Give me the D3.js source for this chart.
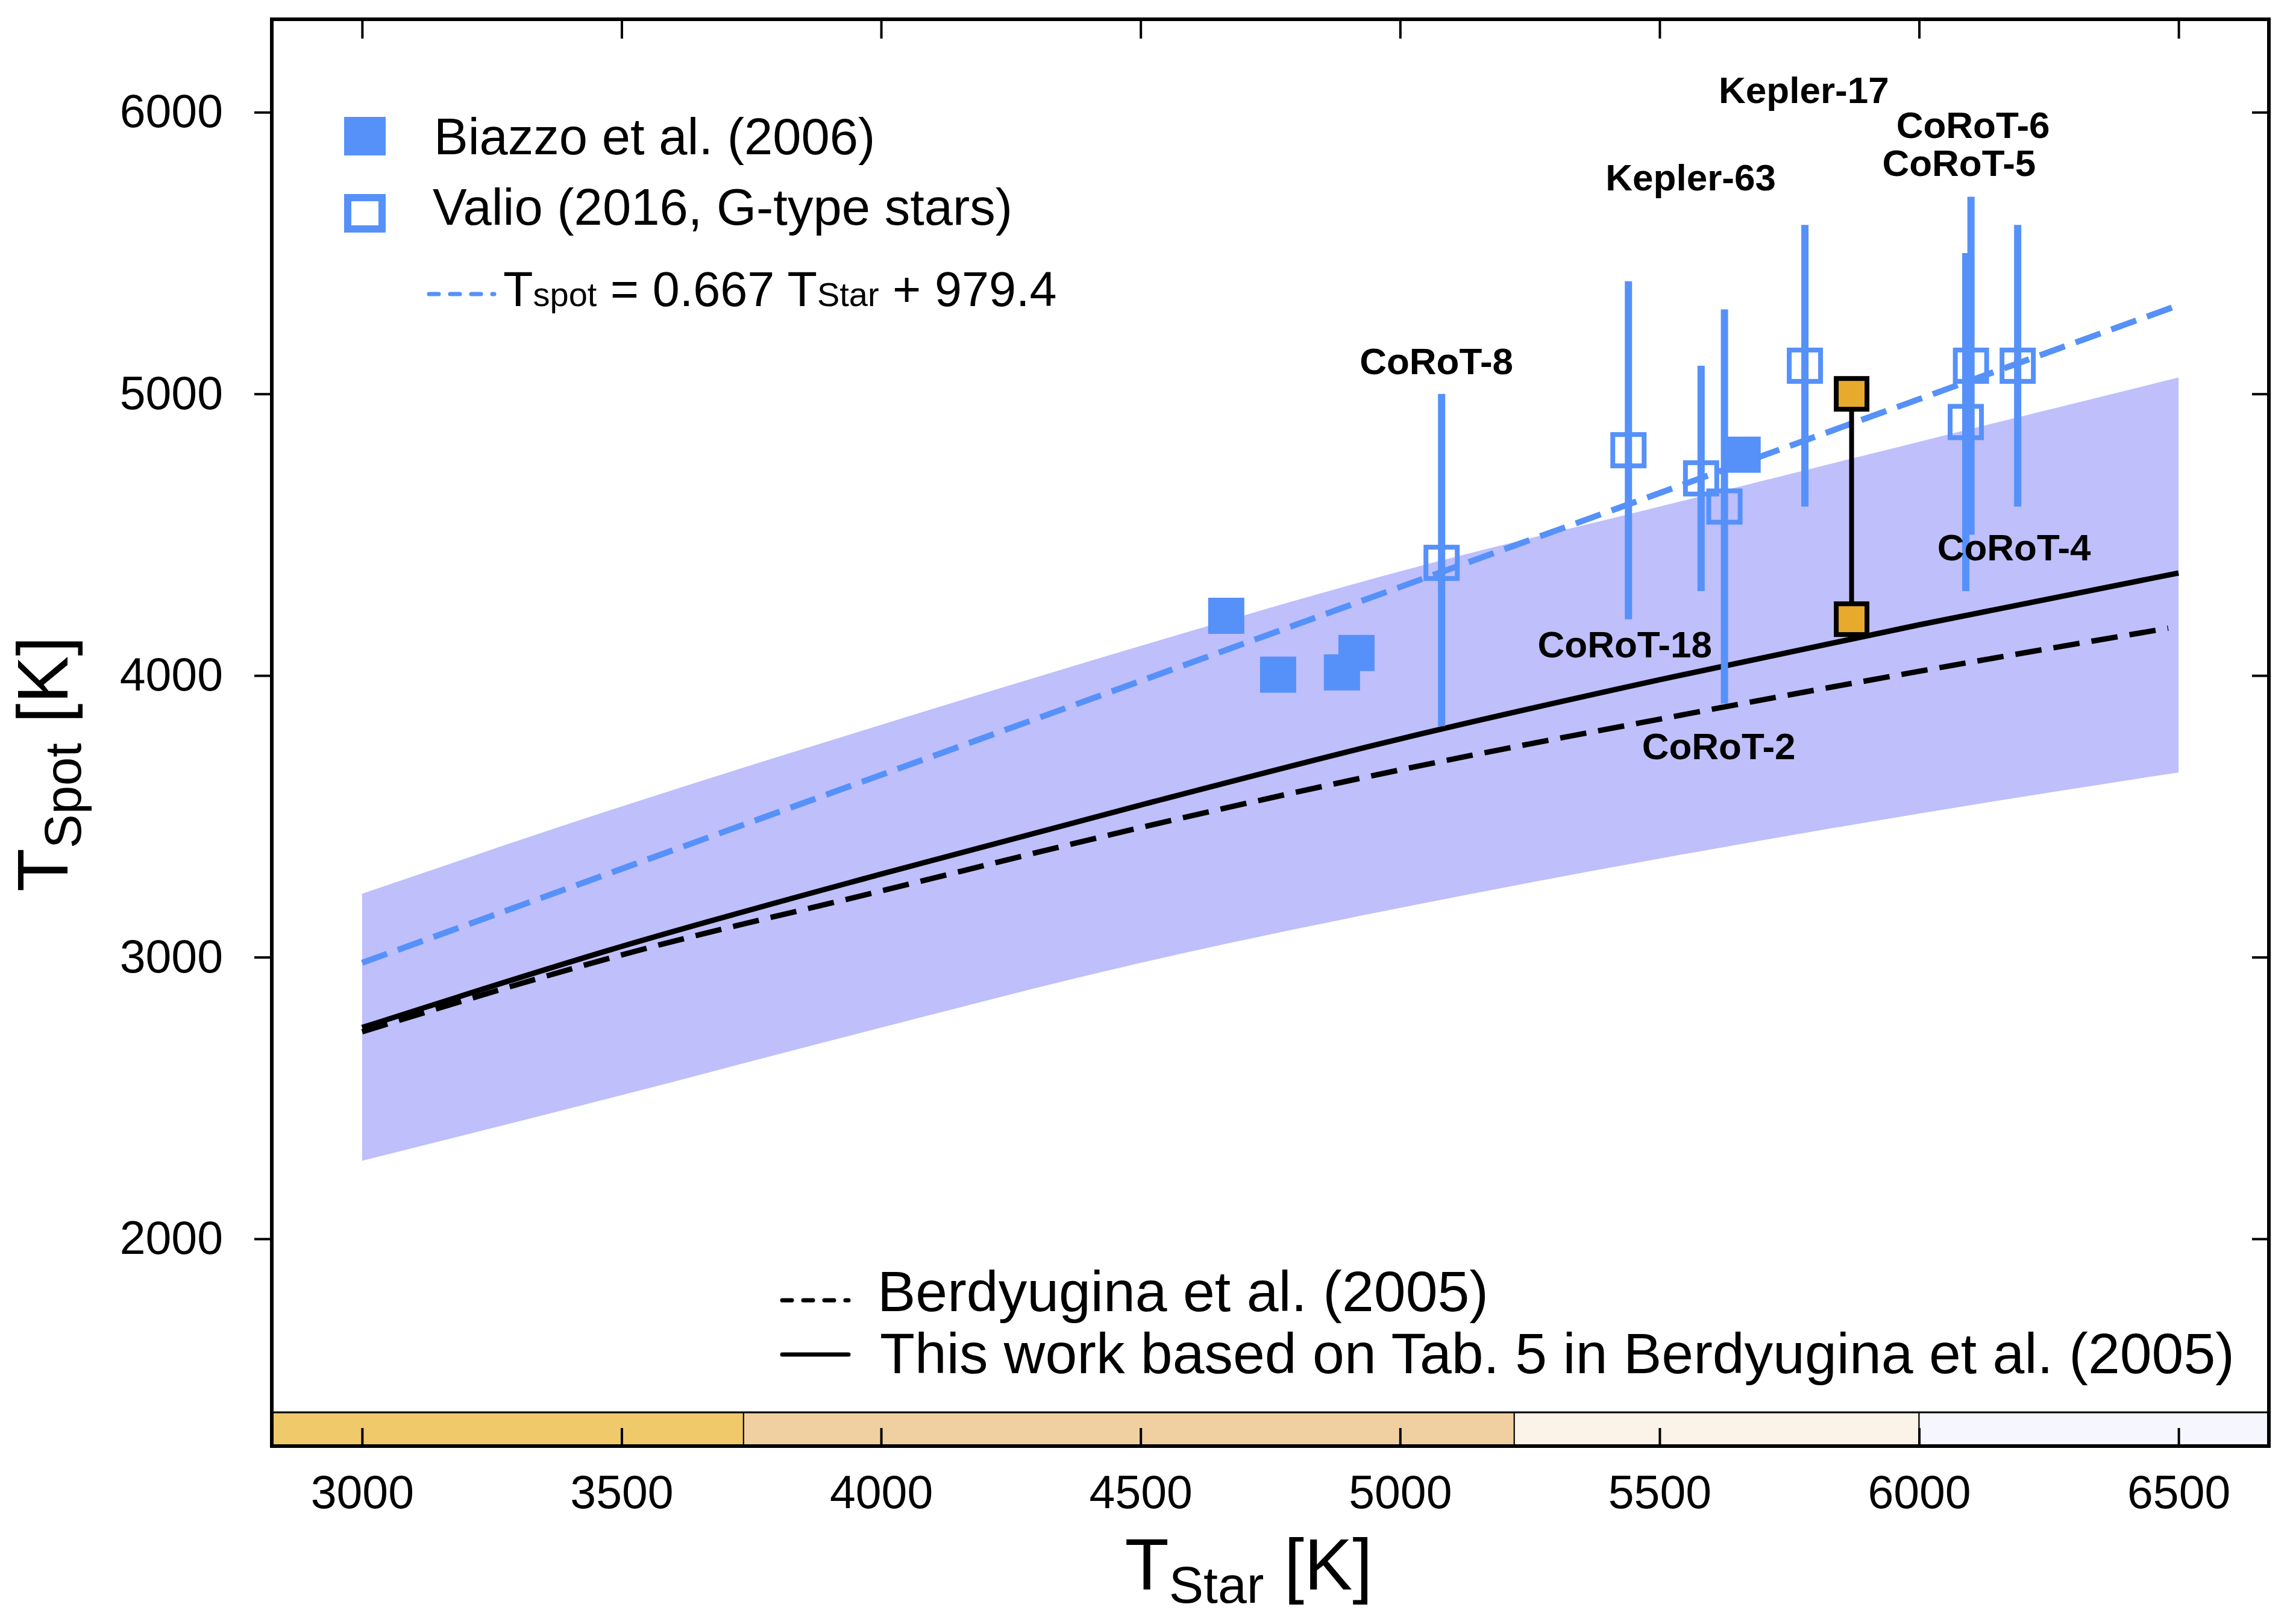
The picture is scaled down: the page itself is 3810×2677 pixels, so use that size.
<!DOCTYPE html>
<html>
<head>
<meta charset="utf-8">
<script src="https://cdn.jsdelivr.net/npm/d3@7"></script>
<style>
  body { margin: 0; background: #fff; }
  svg { display: block; }
  text { font-family: "Liberation Sans", Arial, Helvetica, sans-serif; fill: #000; }
</style>
</head>
<body>
<svg id="chart" width="3810" height="2677"></svg>
<script>
// ---- data ----
const xTicks = [3000, 3500, 4000, 4500, 5000, 5500, 6000, 6500];
const yTicks = [2000, 3000, 4000, 5000, 6000];

// shaded band + "this work" relation, sampled on a T_star grid
const tGrid = [3000, 3500, 4000, 4500, 5000, 5500, 6000, 6500];
const bandUpper = [3225, 3535, 3825, 4105, 4370, 4600, 4830, 5058];
const bandLower = [2277, 2510, 2750, 2980, 3175, 3350, 3510, 3656];
const thisWorkSpot = [2750, 3038, 3295, 3540, 3775, 3985, 4180, 4364];

// Berdyugina et al. (2005) dashed relation
const berdStar = [3000, 3500, 4000, 4500, 5000, 5500, 6000, 6480];
const berdSpot = [2735, 3008, 3235, 3460, 3665, 3845, 4015, 4168];

// linear fit T_spot = 0.667 T_star + 979.4 (end points)
const fitStar = [3000, 6500];
const fitSpot = [2980, 5315];

// Biazzo et al. (2006)
const biazzoStar = [4665, 4765, 4888, 4916, 5660];
const biazzoSpot = [4212, 4003, 4011, 4080, 4784];

// Valio (2016), G-type stars, with error bars
const valioNames = ['CoRoT-8', 'Kepler-63', 'CoRoT-18', 'CoRoT-2', 'Kepler-17', 'CoRoT-6', 'CoRoT-5', 'CoRoT-4'];
const valioStar = [5080, 5440, 5580, 5625, 5780, 6100, 6090, 6190];
const valioSpot = [4400, 4800, 4700, 4600, 5100, 5100, 4900, 5100];
const valioHi = [5000, 5400, 5100, 5300, 5600, 5700, 5500, 5600];
const valioLo = [3820, 4200, 4300, 3900, 4600, 4500, 4300, 4600];

// this work (two values joined by a line)
const ownStar = [5870, 5870];
const ownSpot = [5000, 4200];

// star name labels (anchor point of each label)
const labelNames = ['CoRoT-8', 'Kepler-63', 'Kepler-17', 'CoRoT-6', 'CoRoT-5', 'CoRoT-4', 'CoRoT-18', 'CoRoT-2'];
const labelStar = [5070, 5560, 5778, 6104, 6077, 6183, 5433, 5614];
const labelSpot = [5070, 5722, 6032, 5908, 5773, 4409, 4064, 3703];

// spectral type strip along the bottom
const specBounds = [2826, 3735, 5220, 6000, 6674];
const specColors = ['#f0c96a', '#f0d0a0', '#fbf2e8', '#f5f6fe'];
const specTop = 1384;

// ---- drawing ----
const svg = d3.select('#chart');
const width = 3810, height = 2677;
const margin = { top: 32, right: 45, bottom: 277, left: 451 };
const innerW = width - margin.left - margin.right;
const innerH = height - margin.top - margin.bottom;

const blue = '#5691f9';
const orange = '#e8aa2c';

const x = d3.scaleLinear().domain([2826, 6674]).range([0, innerW]);
const y = d3.scaleLinear().domain([1264, 6330]).range([innerH, 0]);

svg.append('rect').attr('width', width).attr('height', height).attr('fill', '#fff');

const g = svg.append('g')
    .attr('transform', `translate(${margin.left},${margin.top})`);

// spectral strip
g.selectAll('rect.spec')
    .data(specColors)
    .join('rect')
    .attr('class', 'spec')
    .attr('x', (d, i) => x(specBounds[i]))
    .attr('width', (d, i) => x(specBounds[i + 1]) - x(specBounds[i]))
    .attr('y', y(specTop))
    .attr('height', y(1264) - y(specTop))
    .attr('fill', d => d)
    .attr('stroke', '#000')
    .attr('stroke-width', 2);
g.append('line')
    .attr('x1', 0).attr('x2', innerW)
    .attr('y1', y(specTop)).attr('y2', y(specTop))
    .style('stroke', '#000').style('stroke-width', 3);

// band
const idx = d3.range(tGrid.length);
const band = d3.area()
    .x(i => x(tGrid[i]))
    .y0(i => y(bandLower[i]))
    .y1(i => y(bandUpper[i]))
    .curve(d3.curveMonotoneX);
g.append('path').datum(idx)
    .attr('d', band)
    .style('fill', '#bfbffc');

// black relations
const thisLine = d3.line()
    .x(i => x(tGrid[i]))
    .y(i => y(thisWorkSpot[i]))
    .curve(d3.curveMonotoneX);
g.append('path').datum(idx)
    .attr('d', thisLine)
    .style('fill', 'none').style('stroke', '#000').style('stroke-width', 9);

const berdLine = d3.line()
    .x(i => x(berdStar[i]))
    .y(i => y(berdSpot[i]))
    .curve(d3.curveMonotoneX);
g.append('path').datum(d3.range(berdStar.length))
    .attr('d', berdLine)
    .style('fill', 'none').style('stroke', '#000').style('stroke-width', 9)
    .style('stroke-dasharray', '44,20');

// linear fit
g.append('path').datum(d3.range(fitStar.length))
    .attr('d', d3.line().x(i => x(fitStar[i])).y(i => y(fitSpot[i])))
    .style('fill', 'none').style('stroke', blue).style('stroke-width', 10)
    .style('stroke-dasharray', '44,19');

// Valio error bars + open squares
g.selectAll('line.err')
    .data(valioStar)
    .join('line')
    .attr('class', 'err')
    .attr('x1', d => x(d)).attr('x2', d => x(d))
    .attr('y1', (d, i) => y(valioHi[i]))
    .attr('y2', (d, i) => y(valioLo[i]))
    .style('stroke', blue).style('stroke-width', 12);

const openSize = 52;
g.selectAll('rect.valio')
    .data(valioStar)
    .join('rect')
    .attr('class', 'valio')
    .attr('x', d => x(d) - openSize / 2)
    .attr('y', (d, i) => y(valioSpot[i]) - openSize / 2)
    .attr('width', openSize).attr('height', openSize)
    .style('fill', 'none').style('stroke', blue).style('stroke-width', 8);

// Biazzo filled squares
const fillSize = 60;
g.selectAll('rect.biazzo')
    .data(biazzoStar)
    .join('rect')
    .attr('class', 'biazzo')
    .attr('x', d => x(d) - fillSize / 2)
    .attr('y', (d, i) => y(biazzoSpot[i]) - fillSize / 2)
    .attr('width', fillSize).attr('height', fillSize)
    .style('fill', blue);

// this work: two squares joined by a line
g.append('line')
    .attr('x1', x(ownStar[0])).attr('x2', x(ownStar[1]))
    .attr('y1', y(ownSpot[0])).attr('y2', y(ownSpot[1]))
    .style('stroke', '#000').style('stroke-width', 8);
const ownSize = 51;
g.selectAll('rect.own')
    .data(ownStar)
    .join('rect')
    .attr('class', 'own')
    .attr('x', d => x(d) - ownSize / 2)
    .attr('y', (d, i) => y(ownSpot[i]) - ownSize / 2)
    .attr('width', ownSize).attr('height', ownSize)
    .style('fill', orange).style('stroke', '#000').style('stroke-width', 8);

// star labels
g.selectAll('text.star')
    .data(labelNames)
    .join('text')
    .attr('class', 'star')
    .attr('x', (d, i) => x(labelStar[i]))
    .attr('y', (d, i) => y(labelSpot[i]))
    .attr('text-anchor', 'middle')
    .style('font-size', '62px')
    .style('font-weight', 'bold')
    .text(d => d);

// axes
const fmt = d3.format('d');
const axLeft = g.append('g')
    .call(d3.axisLeft(y).tickValues(yTicks).tickFormat(fmt).tickSize(29).tickPadding(52).tickSizeOuter(0));
const axRight = g.append('g')
    .attr('transform', `translate(${innerW},0)`)
    .call(d3.axisLeft(y).tickValues(yTicks).tickSize(28).tickFormat('').tickSizeOuter(0));
const axBottom = g.append('g')
    .attr('transform', `translate(0,${innerH})`)
    .call(d3.axisBottom(x).tickValues(xTicks).tickFormat(fmt).tickSize(-30).tickPadding(48).tickSizeOuter(0));
const axTop = g.append('g')
    .call(d3.axisBottom(x).tickValues(xTicks).tickSize(32).tickFormat('').tickSizeOuter(0));

[axLeft, axRight, axBottom, axTop].forEach(a => {
    a.select('.domain').remove();
    a.selectAll('.tick line').style('stroke', '#000').style('stroke-width', 4);
    a.selectAll('.tick text')
        .style('font-size', '77px')
        .style('font-family', '"Liberation Sans", Arial, sans-serif')
        .style('fill', '#000');
});

// frame
g.append('rect')
    .attr('width', innerW).attr('height', innerH)
    .style('fill', 'none').style('stroke', '#000').style('stroke-width', 6);

// axis titles
const yTitle = svg.append('text')
    .attr('transform', 'translate(112,1268) rotate(-90)')
    .attr('text-anchor', 'middle')
    .style('font-size', '118px');
yTitle.append('tspan').text('T');
yTitle.append('tspan').attr('dy', 22).style('font-size', '85px').text('Spot');
yTitle.append('tspan').attr('dy', -22).text(' [K]');

const xTitle = svg.append('text')
    .attr('x', 2072).attr('y', 2638)
    .attr('text-anchor', 'middle')
    .style('font-size', '120px');
xTitle.append('tspan').text('T');
xTitle.append('tspan').attr('dy', 22).style('font-size', '86px').text('Star');
xTitle.append('tspan').attr('dy', -22).text(' [K]');

// legend, upper left
svg.append('rect')
    .attr('x', 571).attr('y', 194).attr('width', 69).attr('height', 64)
    .style('fill', blue);
svg.append('text').attr('x', 720).attr('y', 256)
    .style('font-size', '85px').text('Biazzo et al. (2006)');

svg.append('rect')
    .attr('x', 577).attr('y', 328).attr('width', 57).attr('height', 52)
    .style('fill', 'none').style('stroke', blue).style('stroke-width', 12);
svg.append('text').attr('x', 718).attr('y', 373)
    .style('font-size', '85px').text('Valio (2016, G-type stars)');

svg.append('line')
    .attr('x1', 712).attr('x2', 820).attr('y1', 488).attr('y2', 488)
    .style('stroke', blue).style('stroke-width', 7)
    .style('stroke-linecap', 'round').style('stroke-dasharray', '16,19');
const fitLabel = svg.append('text').attr('x', 835).attr('y', 508)
    .style('font-size', '81px');
fitLabel.append('tspan').text('T');
fitLabel.append('tspan').style('font-size', '56px').text('spot');
fitLabel.append('tspan').text(' = 0.667 T');
fitLabel.append('tspan').style('font-size', '56px').text('Star');
fitLabel.append('tspan').text(' + 979.4');

// legend, bottom
svg.append('line')
    .attr('x1', 1298).attr('x2', 1408).attr('y1', 2158).attr('y2', 2158)
    .style('stroke', '#000').style('stroke-width', 7)
    .style('stroke-linecap', 'round').style('stroke-dasharray', '16,19');
svg.append('text').attr('x', 1456).attr('y', 2176)
    .style('font-size', '95px').text('Berdyugina et al. (2005)');

svg.append('line')
    .attr('x1', 1298).attr('x2', 1408).attr('y1', 2248).attr('y2', 2248)
    .style('stroke', '#000').style('stroke-width', 7)
    .style('stroke-linecap', 'round');
svg.append('text').attr('x', 1460).attr('y', 2279)
    .style('font-size', '95px').text('This work based on Tab. 5 in Berdyugina et al. (2005)');
</script>
</body>
</html>
